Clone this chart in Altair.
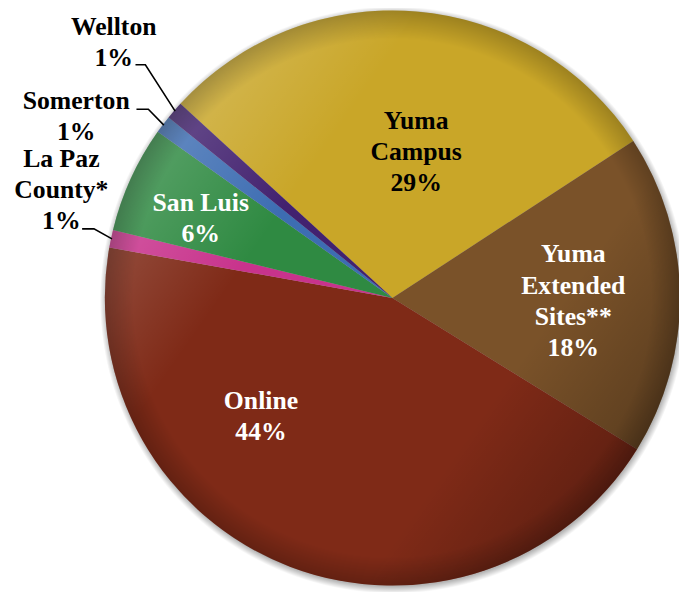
import math
import altair as alt
import pandas as pd

# ---- data ----
categories = ["Yuma Campus", "Yuma Extended Sites**", "Online", "La Paz County*",
              "San Luis", "Somerton", "Wellton"]
shares = [29, 18, 44, 1, 6, 1, 1]
slice_colors = ["#C9A628", "#7A5229", "#7F2A17", "#C8338C", "#2F8A42", "#3D6DB2", "#42216F"]
label_texts = [["Yuma", "Campus", "29%"], ["Yuma", "Extended", "Sites**", "18%"],
               ["Online", "44%"], ["La Paz", "County*", "1%"], ["San Luis", "6%"],
               ["Somerton", "1%"], ["Wellton", "1%"]]
label_colors = ["#000000", "#FFFFFF", "#FFFFFF", "#000000", "#FFFFFF", "#000000", "#000000"]

# ---- layout (chart pixel space) ----
W, H = 679, 584
CX, CY, R = 389, 290, 291
START_DEG = -47.5
start = math.radians(START_DEG)
LINE_H = 31.5
FONT = "Liberation Serif"

# label anchors (centre x, first baseline y)
label_pos = {
    "Yuma Campus": (413, 119),
    "Yuma Extended Sites**": (572, 254),
    "Online": (256, 402),
    "La Paz County*": (54, 157),
    "San Luis": (195, 202),
    "Somerton": (69, 99),
    "Wellton": (107, 24),
}
# leader line start (x0, x1, y) for outside labels
leaders = {
    "Wellton": (129, 139, 54),
    "Somerton": (130, 142, 99),
    "La Paz County*": (75, 87, 220),
}

pie_df = pd.DataFrame({"category": categories, "share": shares,
                       "order": list(range(len(categories)))})

lab_rows = []
for cat, lines_, col in zip(categories, label_texts, label_colors):
    x, y = label_pos[cat]
    for i, t in enumerate(lines_):
        lab_rows.append({"category": cat, "text": t, "x": x, "y": y + i * LINE_H, "col": col})
lab_df = pd.DataFrame(lab_rows)

# leader lines: end point on the rim at the slice's mid angle
total = sum(shares)
cum = 0
mid = {}
for cat, v in zip(categories, shares):
    mid[cat] = start + (cum + v / 2) / total * 2 * math.pi
    cum += v
lead_rows = []
for cat, (x0, x1, y) in leaders.items():
    a = mid[cat]
    ex = CX + (R - 1) * math.sin(a)
    ey = CY - (R - 1) * math.cos(a)
    lead_rows += [{"category": cat, "i": 0, "x": x0, "y": y},
                  {"category": cat, "i": 1, "x": x1, "y": y},
                  {"category": cat, "i": 2, "x": ex, "y": ey}]
lead_df = pd.DataFrame(lead_rows)

xs = alt.Scale(domain=[0, W], range=[0, W])
ys = alt.Scale(domain=[0, H], range=[0, H])

one = pd.DataFrame({"a": [1]})

shadow = alt.Chart(one).mark_arc(
    radius=R + 6, theta=0, theta2=2 * math.pi,
    fill={"gradient": "radial", "x1": 0.5, "y1": 0.5, "r1": 0, "x2": 0.5, "y2": 0.5, "r2": 0.5,
          "stops": [{"offset": 0, "color": "rgba(0,0,0,0.35)"},
                    {"offset": 0.975, "color": "rgba(0,0,0,0.30)"},
                    {"offset": 1, "color": "rgba(0,0,0,0)"}]}
).encode(x=alt.value(CX + 1), y=alt.value(CY + 2))

pie = alt.Chart(pie_df).mark_arc(radius=R, stroke=None).encode(
    theta=alt.Theta("share:Q", stack=True,
                    scale=alt.Scale(domain=[0, total], range=[start, start + 2 * math.pi])),
    order=alt.Order("order:Q"),
    color=alt.Color("category:N", scale=alt.Scale(domain=categories, range=slice_colors),
                    legend=None),
    x=alt.value(CX), y=alt.value(CY),
)

light = alt.Chart(one).mark_arc(
    radius=R, theta=0, theta2=2 * math.pi,
    fill={"gradient": "linear", "x1": 0.0, "y1": 0.15, "x2": 1.0, "y2": 0.85,
          "stops": [{"offset": 0, "color": "rgba(255,255,255,0.28)"},
                    {"offset": 0.3, "color": "rgba(255,255,255,0)"},
                    {"offset": 0.7, "color": "rgba(0,0,0,0)"},
                    {"offset": 1, "color": "rgba(0,0,0,0.35)"}]}
).encode(x=alt.value(CX), y=alt.value(CY))

rim = alt.Chart(one).mark_arc(
    radius=R, theta=0, theta2=2 * math.pi,
    fill={"gradient": "radial", "x1": 0.5, "y1": 0.5, "r1": 0, "x2": 0.5, "y2": 0.5, "r2": 0.5,
          "stops": [{"offset": 0, "color": "rgba(0,0,0,0)"},
                    {"offset": 0.9, "color": "rgba(0,0,0,0)"},
                    {"offset": 1, "color": "rgba(0,0,0,0.22)"}]}
).encode(x=alt.value(CX), y=alt.value(CY))

leader_lines = alt.Chart(lead_df).mark_line(color="black", strokeWidth=1.6).encode(
    x=alt.X("x:Q", scale=xs, axis=None),
    y=alt.Y("y:Q", scale=ys, axis=None),
    detail="category:N",
    order="i:Q",
)

labels = alt.Chart(lab_df).mark_text(
    font=FONT, fontSize=26, fontWeight="bold", align="center", baseline="alphabetic",
).encode(
    x=alt.X("x:Q", scale=xs, axis=None),
    y=alt.Y("y:Q", scale=ys, axis=None),
    text="text:N",
    color=alt.Color("col:N", scale=None, legend=None),
)

chart = alt.layer(shadow, pie, light, rim, leader_lines, labels).properties(
    width=W, height=H, padding=0, autosize="none", background="white"
).configure(font=FONT).configure_view(stroke=None)

chart.save("out.html", embed_options={"renderer": "svg", "actions": False})
